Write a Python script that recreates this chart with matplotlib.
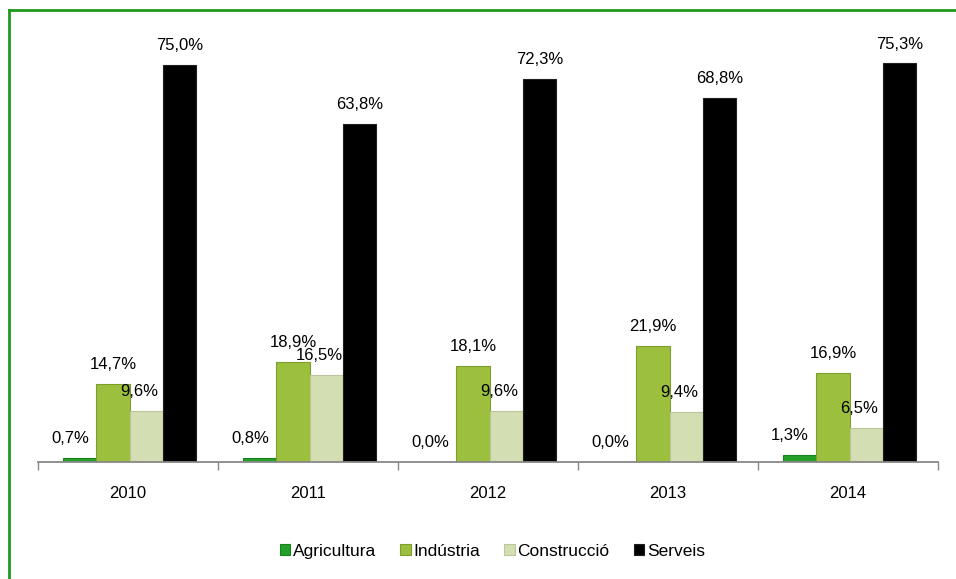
import numpy as np
import matplotlib.pyplot as plt
from matplotlib.lines import Line2D

years = ["2010", "2011", "2012", "2013", "2014"]
sectors = ["Agricultura", "Indústria", "Construcció", "Serveis"]
agricultura = [0.7, 0.8, 0.0, 0.0, 1.3]
industria = [14.7, 18.9, 18.1, 21.9, 16.9]
construccio = [9.6, 16.5, 9.6, 9.4, 6.5]
serveis = [75.0, 63.8, 72.3, 68.8, 75.3]

colors = ["#24A02A", "#9DBF3E", "#D3DFB2", "#000000"]
edges = ["#1B7F1F", "#7F9C2E", "#B9C79A", "#202020"]
# small horizontal nudges of the value labels, in points
label_dx = [-7, 0, -5, 0]

plt.rcParams['font.family'] = ['Liberation Sans', 'DejaVu Sans']

fig = plt.figure(figsize=(9.56, 5.79), dpi=100)
ax = fig.add_axes([0.0397, 0.2021, 0.9414, 0.7312])

x = np.arange(len(years))
w = 0.185
series = [agricultura, industria, construccio, serveis]
for i, vals in enumerate(series):
    pos = x + (i - 1.5) * w + 0.01
    bars = ax.bar(pos, vals, width=w, color=colors[i], edgecolor=edges[i],
                  linewidth=0.8, label=sectors[i])
    for b, v in zip(bars, vals):
        ax.annotate("{:.1f}%".format(v).replace(".", ","),
                    (b.get_x() + b.get_width() / 2, b.get_height()),
                    xytext=(label_dx[i], 14), textcoords="offset points",
                    ha="center", va="center", fontsize=12, color="#000000")

ax.set_xlim(-0.5, 4.5)
ax.set_ylim(0, 80)
ax.set_yticks([])
for s in ["top", "right", "left"]:
    ax.spines[s].set_visible(False)
ax.spines["bottom"].set_color("#888888")
ax.spines["bottom"].set_linewidth(1.3)

ax.set_xticks(np.arange(-0.5, 5.0, 1.0), minor=False)
ax.set_xticklabels([])
ax.tick_params(axis="x", which="major", direction="out", length=6,
               color="#888888", width=1)
ax.set_xticks(x, minor=True)
ax.set_xticklabels(years, minor=True, fontsize=12)
ax.tick_params(axis="x", which="minor", length=0, pad=17)

leg = fig.legend(loc="center", bbox_to_anchor=(0.515, 0.048), ncol=4,
                 frameon=False, fontsize=12.5, handlelength=0.6,
                 handleheight=0.6, handletextpad=0.15, columnspacing=1.4)

# green frame line on the top and left edges
fig.add_artist(Line2D([0.0094, 1.0], [0.983, 0.983], transform=fig.transFigure,
                      color="#1E9A1E", linewidth=2))
fig.add_artist(Line2D([0.0094, 0.0094], [0.0, 0.983], transform=fig.transFigure,
                      color="#1E9A1E", linewidth=2))

fig.savefig("out.png", dpi=100, facecolor="white")
